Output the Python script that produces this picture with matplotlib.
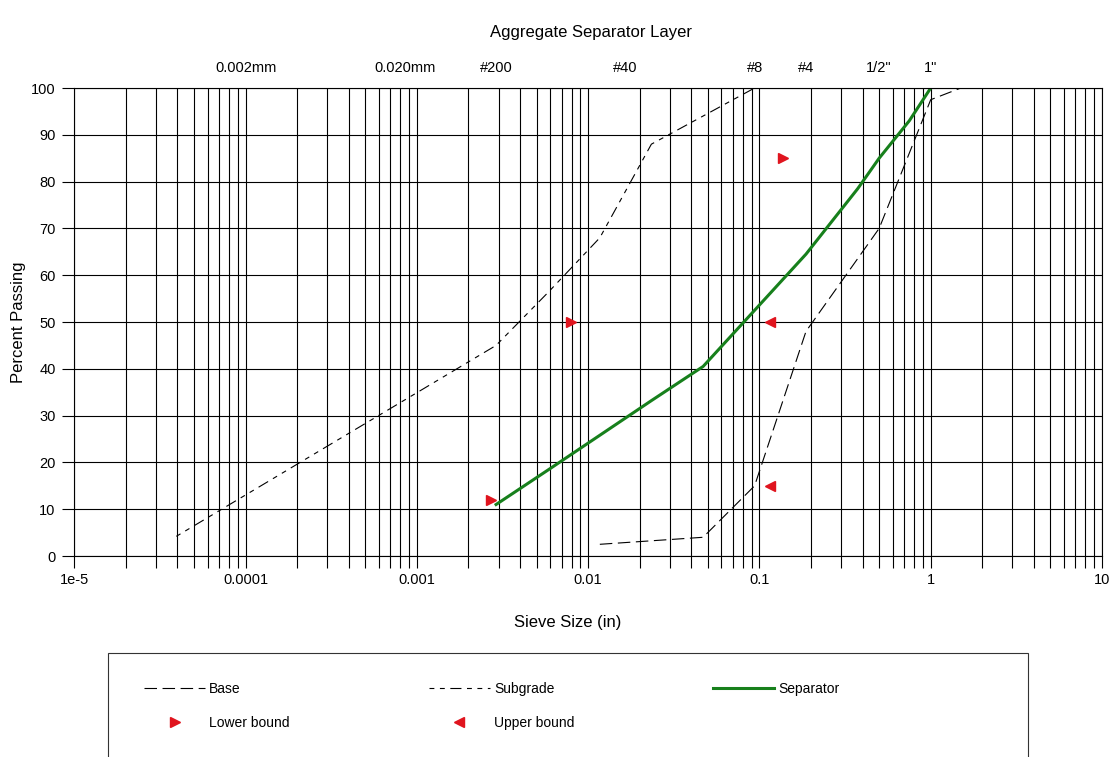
import matplotlib.pyplot as plt
from matplotlib.patches import Rectangle
from matplotlib.ticker import LogLocator, NullFormatter

plt.rcParams['font.family'] = ['Liberation Sans', 'DejaVu Sans']
plt.rcParams['lines.scale_dashes'] = False

# sieve size (in) / percent passing
base_size = [0.0117, 0.0469, 0.0937, 0.187, 0.5, 1.0, 1.5]
base_pass = [2.5, 4, 15, 48, 70, 97.5, 100]

subgrade_size = [3.94e-5, 0.0029, 0.0059, 0.0117, 0.0234, 0.0937]
subgrade_pass = [4.2, 45, 56.5, 68, 88, 100]

sep_size = [0.0029, 0.0059, 0.0117, 0.0234, 0.0469, 0.0937, 0.187, 0.375, 0.5, 0.75, 1.0]
sep_pass = [11, 18.5, 25.8, 33.2, 40.5, 52.5, 64.5, 78.5, 85, 93, 100]

lower_size = [0.0027, 0.0079, 0.138]
lower_pass = [12, 50, 85]
upper_size = [0.115, 0.115]
upper_pass = [50, 15]

x_ticks = [1e-5, 1e-4, 1e-3, 1e-2, 0.1, 1, 10]
x_ticklabels = ['1e-5', '0.0001', '0.001', '0.01', '0.1', '1', '10']
y_ticks = [0, 10, 20, 30, 40, 50, 60, 70, 80, 90, 100]
top_pos = [1.0e-4, 8.5e-4, 0.0029, 0.0165, 0.0937, 0.187, 0.5, 1.0]
top_labels = ['0.002mm', '0.020mm', '#200', '#40', '#8', '#4', '1/2"', '1"']

W, H = 1112, 757
fig = plt.figure(figsize=(W / 100, H / 100), dpi=100)
ax = fig.add_axes([74.3 / W, (H - 556) / H, (1102 - 74.3) / W, 468 / H])

ax.set_xscale('log')
ax.set_xlim(1e-5, 10)
ax.set_ylim(0, 100)

# grid
ax.set_xticks(x_ticks, x_ticklabels)
ax.xaxis.set_minor_locator(LogLocator(base=10, subs=[2, 3, 4, 5, 6, 7, 8, 9], numticks=20))
ax.xaxis.set_minor_formatter(NullFormatter())
ax.set_yticks(y_ticks)
ax.grid(which='both', axis='x', color='black', lw=0.8)
ax.grid(which='major', axis='y', color='black', lw=0.8)
ax.set_axisbelow(True)
for s in ax.spines.values():
    s.set_color('black')
    s.set_linewidth(0.8)
ax.tick_params(which='both', direction='out', length=8.5, width=0.8, color='black',
               labelsize=10.5, pad=4)
ax.tick_params(axis='y', pad=5)

# data
l_base, = ax.plot(base_size, base_pass, color='black', lw=0.8, dashes=(9, 4), label='Base')
l_sub, = ax.plot(subgrade_size, subgrade_pass, color='black', lw=0.8,
                 dashes=(3.5, 4, 3.5, 4, 8, 4), label='Subgrade')
l_sep, = ax.plot(sep_size, sep_pass, color='#17801c', lw=2.2, label='Separator')
l_low, = ax.plot(lower_size, lower_pass, ls='none', marker='>', ms=7,
                 color='#e0141e', label='Lower bound')
l_up, = ax.plot(upper_size, upper_pass, ls='none', marker='<', ms=7,
                color='#e0141e', label='Upper bound')

# sieve labels on top
for p, lab in zip(top_pos, top_labels):
    ax.text(p, 1.0427, lab, transform=ax.get_xaxis_transform(),
            ha='center', va='center', fontsize=10.5)

ax.set_xlabel('Sieve Size (in)', fontsize=12)
ax.xaxis.set_label_coords(0.48, -0.126)
ax.set_ylabel('Percent Passing', fontsize=12)
ax.yaxis.set_label_coords(-0.047, 0.5)

fig.text(590.6 / W, 1 - 33 / H, 'Aggregate Separator Layer', ha='center', va='center',
         fontsize=12)

# legend box + legend
fig.add_artist(Rectangle((108 / W, -0.05), (1028 - 108) / W, 0.05 + 1 - 653 / H,
                         transform=fig.transFigure, fill=False, edgecolor='#333333', lw=0.8))
fig.legend([l_base, l_low, l_sub, l_up, l_sep],
           ['Base', 'Lower bound', 'Subgrade', 'Upper bound', 'Separator'],
           loc='upper left', bbox_to_anchor=(137 / W, 1 - 675 / H), ncol=3,
           frameon=False, fontsize=10, borderpad=0, handlelength=4.4,
           handletextpad=0.3, columnspacing=10, labelspacing=1.45)

fig.savefig('out.png', dpi=100)
